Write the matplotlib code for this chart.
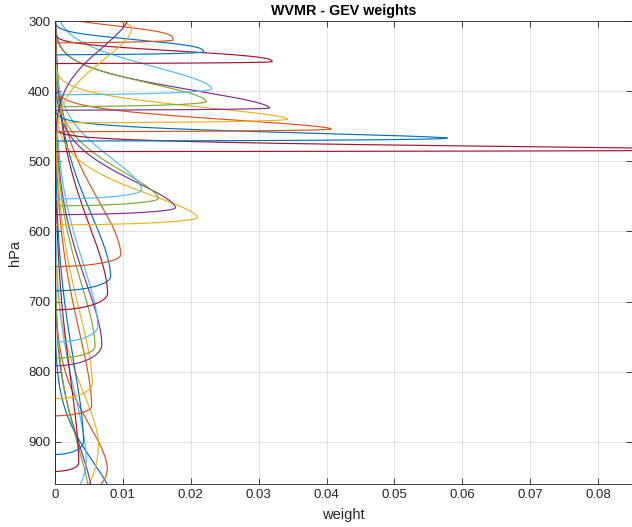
import numpy as np
import matplotlib
matplotlib.use('Agg')
import matplotlib.pyplot as plt

plt.rcParams['font.family'] = ['Liberation Sans', 'DejaVu Sans']

colors = ['#0072BD', '#D95319', '#EDB120', '#7E2F8E', '#77AC30', '#4DBEEE', '#A2142F']

# ---- values (one entry per curve, in plotting order) ----
# pressure (hPa) of each curve's peak
peak_hpa = [985, 938, 902, 985, 990, 925, 930, 900, 849, 816, 761, 764, 735, 688,
            664, 633, 580, 566, 553, 541, 483.5, 467, 454, 440, 424, 415, 397, 358,
            344, 327, 310, 290]
# peak weight
peak_weight = [0.0085, 0.0077, 0.0064, 0.0056, 0.0052, 0.0046, 0.0035, 0.0042, 0.0054,
               0.0055, 0.0069, 0.0059, 0.0063, 0.00775, 0.0082, 0.0097, 0.021, 0.01775,
               0.0152, 0.01275, 0.100, 0.0578, 0.0407, 0.0343, 0.0316, 0.0223, 0.0231,
               0.032, 0.0219, 0.0174, 0.0113, 0.0110]
# pressure (hPa) where the curve drops back to zero (sharp edge)
edge_hpa = [1000, 985, 995, 1000, 1005, 985, 942, 918, 862.7, 838.5, 791.5, 780.5,
            757.7, 711.7, 684.6, 650, 590.6, 576, 563.5, 553.6, 486, 471, 457.7, 445,
            427, 422, 405, 360.5, 348, 331, 293, 265]
# extent (hPa) of the slowly decaying side of each curve
tail_hpa = [95, 104, 120, 130, 140, 150, 200, 190, 180, 170, 150, 150, 150, 160,
            146, 130, 57, 65, 66, 75, 8.5, 12, 21, 27, 41, 40, 49, 19,
            21, 23, 70, 74]
tail_pow = [1.7, 1.7, 1.7, 1.7, 1.7, 1.7, 1.7, 1.7, 1.7, 1.7, 1.7, 1.7, 1.7, 1.7,
            1.7, 1.7, 1.6, 1.6, 1.6, 1.7, 1.5, 1.6, 1.7, 1.7, 1.7, 1.8, 1.8, 2.5,
            2.6, 3.0, 1.8, 1.8]

p = np.linspace(300, 960, 13201)

fig = plt.figure(figsize=(6.32, 5.27), dpi=100)
ax = fig.add_axes([55/632, 43/527, 577/632, 463/527])

for i in range(len(peak_hpa)):
    pk, A, ed, s, b = peak_hpa[i], peak_weight[i], edge_hpa[i], tail_hpa[i], tail_pow[i]
    gap = ed - pk
    sgn = np.sign(gap)
    g = abs(gap)
    d = (p - pk) * sgn          # >0 on the sharp side, <0 on the tail side
    w = np.zeros_like(p)
    tail = d <= 0
    w[tail] = A * np.exp(-(np.abs(d[tail]) / s) ** b)
    nose = (d > 0) & (d < g)
    w[nose] = A * np.sqrt(1 - (d[nose] / g) ** 2)
    ax.plot(w, p, color=colors[i % 7], lw=0.85)

ax.set_xlim(0, 0.085)
ax.set_ylim(960, 300)
ax.set_xticks(np.arange(0, 0.0801, 0.01))
ax.set_xticklabels(['0', '0.01', '0.02', '0.03', '0.04', '0.05', '0.06', '0.07', '0.08'])
ax.set_yticks([300, 400, 500, 600, 700, 800, 900])
ax.grid(True, color='#262626', alpha=0.15, lw=0.6)
ax.tick_params(direction='in', top=True, right=True, length=4, width=0.6,
               labelsize=9.5, colors='#262626')
for sp in ax.spines.values():
    sp.set_color('#262626')
    sp.set_linewidth(0.6)
ax.set_xlabel('weight', fontsize=10.5, color='#262626', labelpad=5)
ax.set_ylabel('hPa', fontsize=10.5, color='#262626', labelpad=4)
ax.set_title('WVMR - GEV weights', fontsize=10.3, fontweight='bold', pad=4)

fig.savefig('out.png', dpi=100)
